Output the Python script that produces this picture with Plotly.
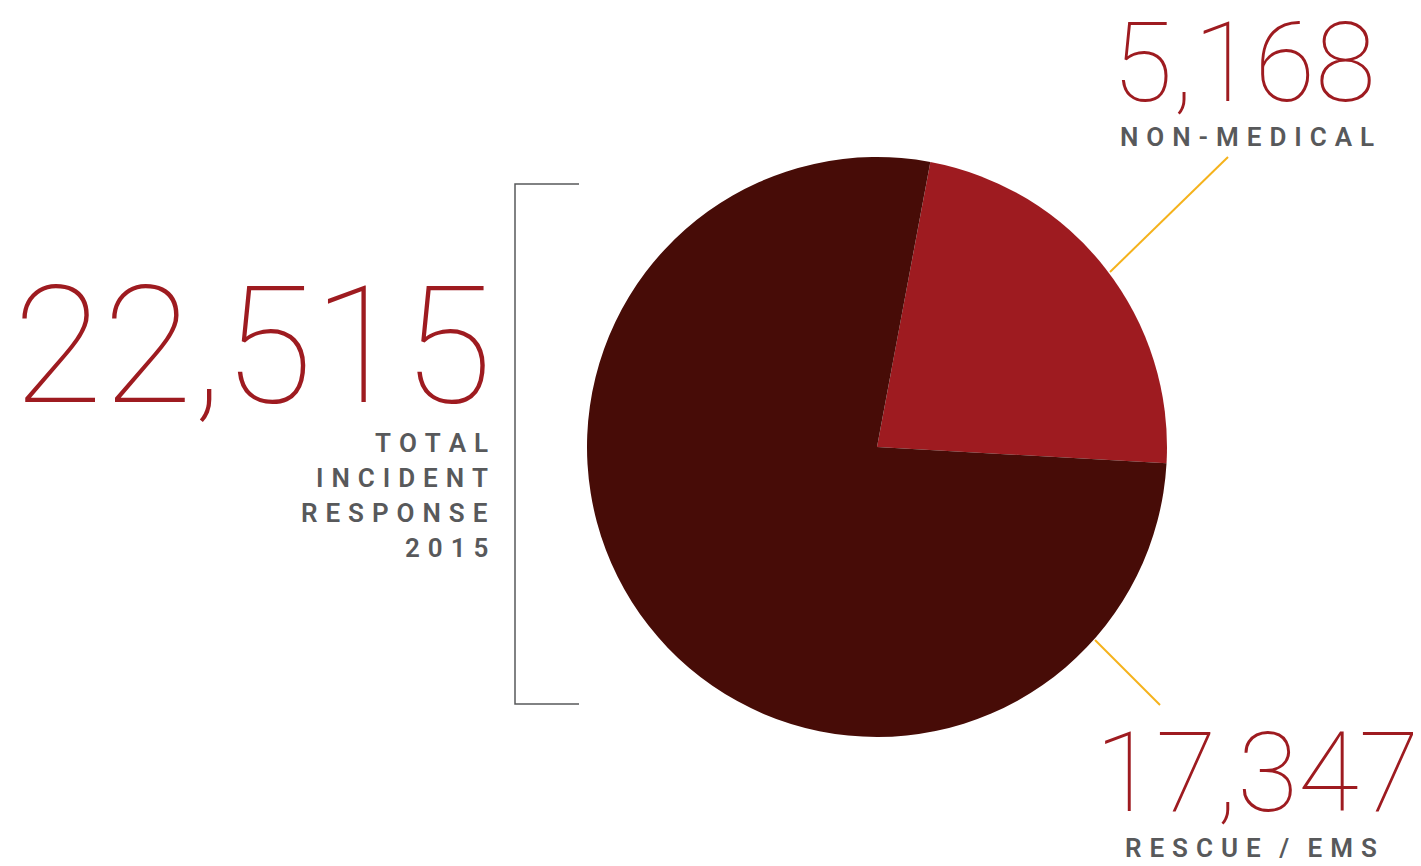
import plotly.graph_objects as go

# data
categories = ['NON-MEDICAL', 'RESCUE / EMS']
values = [5168, 17347]
totalLabel = ['TOTAL', 'INCIDENT', 'RESPONSE', '2015']
sliceColors = ['#9e1b20', '#470c07']

RED = '#9e1b20'
GRAY = '#58595b'
GOLD = '#f5b21b'
W, H = 1421, 866
OFF = 8  # page body margin


def spaced(txt):
    # letter-spaced caps: thin + hair space between letters
    return '\u2009\u200a'.join(txt)


total = sum(values)

# pie centre / radius in page pixels
cx, cy, r = 877, 447, 290
fw, fh = W - OFF, H - OFF

fig = go.Figure()
fig.add_trace(go.Pie(
    labels=categories,
    values=values,
    sort=False,
    direction='clockwise',
    rotation=10.6,
    marker=dict(colors=sliceColors, line=dict(width=0)),
    textinfo='none',
    hoverinfo='label+value',
    showlegend=False,
    domain=dict(x=[(cx - r - OFF) / fw, (cx + r - OFF) / fw],
                y=[(H - cy - r) / fh, (H - cy + r) / fh]),
))

numFont = dict(family='Roboto', size=164, color=RED, weight=100)
capFont = dict(family='Roboto', size=26, color=GRAY, weight=600)

annotations = []
# total on the left
annotations.append(dict(x=495, y=346, text='{:,}'.format(total), font=numFont,
                        xanchor='right', yanchor='middle'))
for i, line in enumerate(totalLabel):
    annotations.append(dict(x=490, y=443 + 35 * i, text=spaced(line), font=capFont,
                            xanchor='right', yanchor='middle'))

# non-medical
annotations.append(dict(x=1244, y=63, text='{:,}'.format(values[0]),
                        font=dict(numFont, size=111), xanchor='center', yanchor='middle'))
annotations.append(dict(x=1247, y=137, text=spaced('NON-MEDICAL'), font=capFont,
                        xanchor='center', yanchor='middle'))
# rescue / ems
annotations.append(dict(x=1257, y=773, text='{:,}'.format(values[1]),
                        font=dict(numFont, size=111), xanchor='center', yanchor='middle'))
annotations.append(dict(x=1251, y=848,
                        text=spaced('RESCUE') + '\u2002\u2009/\u2002\u2009' + spaced('EMS'),
                        font=capFont, xanchor='center', yanchor='middle'))

for a in annotations:
    a.update(xref='x', yref='y', showarrow=False)

shapes = [
    # bracket
    dict(type='path', path='M 579 184 L 515 184 L 515 704 L 579 704',
         line=dict(color=GRAY, width=1.5)),
    # leader lines
    dict(type='line', x0=1110, y0=272, x1=1228, y1=157, line=dict(color=GOLD, width=2)),
    dict(type='line', x0=1095, y0=640, x1=1160, y1=705, line=dict(color=GOLD, width=2)),
]
for s in shapes:
    s.update(xref='x', yref='y', layer='below')

fig.update_layout(
    width=fw, height=fh,
    margin=dict(l=0, r=0, t=0, b=0),
    paper_bgcolor='white', plot_bgcolor='white',
    xaxis=dict(range=[OFF, W], visible=False, fixedrange=True),
    yaxis=dict(range=[H, OFF], visible=False, fixedrange=True),
    annotations=annotations,
    shapes=shapes,
)

fig.write_html('out.html')
